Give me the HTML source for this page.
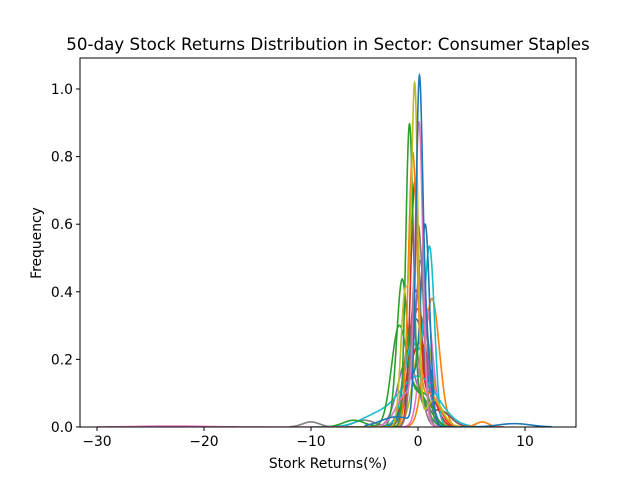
<!DOCTYPE html>
<html><head><meta charset="utf-8"><style>
body{margin:0;background:#fff}
svg text{font-family:"DejaVu Sans","Liberation Sans",sans-serif;fill:#000}
</style></head><body>
<svg id="chart" width="640" height="480" viewBox="0 0 640 480" xmlns="http://www.w3.org/2000/svg">
<defs><clipPath id="clip"><rect x="80" y="58" width="496" height="369"/></clipPath></defs>
<rect width="640" height="480" fill="#fff"/>
<text x="328" y="50" font-size="16.7" text-anchor="middle">50-day Stock Returns Distribution in Sector: Consumer Staples</text>
<g id="plot" clip-path="url(#clip)"></g>
<rect x="80" y="58" width="496" height="369" fill="none" stroke="#000" stroke-width="1"/>
<g id="axes"></g>
<text x="328" y="468" font-size="13.9" text-anchor="middle">Stork Returns(%)</text>
<text x="0" y="0" font-size="13.9" text-anchor="middle" transform="translate(41,243) rotate(-90)">Frequency</text>
</svg>
<script>
// each series: gaussian components [center, width, height] and x-range
const seriesComponents = [
 [[0.1,0.3,0.84],[0.6,0.5,0.3],[-2,1.5,0.03],[9,1.5,0.01]],
 [[-0.3,0.3,0.98],[-1.2,0.4,0.4],[1.5,0.8,0.08]],
 [[0.1,0.35,0.85],[-1,1,0.1],[-23,3,0.003]],
 [[-0.8,0.35,0.87],[0.5,0.8,0.1]],
 [[-0.5,0.4,0.78],[1,1,0.1],[6,0.6,0.015]],
 [[0,0.5,0.6],[-10,0.8,0.015]],
 [[0.7,0.4,0.55],[-0.5,0.8,0.15]],
 [[1.1,0.45,0.5],[-0.5,0.8,0.25]],
 [[-1.5,0.5,0.42],[0,0.8,0.1]],
 [[-1.8,0.7,0.28],[0,1,0.1],[-6,1,0.02]],
 [[0,1.8,0.15],[-4,1.5,0.03]],
 [[-0.3,0.4,0.7],[1,0.8,0.1]],
 [[0.3,0.5,0.45],[-1,1,0.1]],
 [[-0.2,0.6,0.4],[2,1,0.05]],
 [[0.8,0.6,0.35]],
 [[-0.6,0.7,0.3],[-5,1,0.02]],
 [[0.5,0.8,0.3]],
 [[-0.2,0.9,0.32]],
 [[1.3,0.7,0.38]],
 [[0.2,1.1,0.25]],
 [[-1,0.9,0.2],[2,1,0.05]],
 [[0,0.8,0.35]]
];
const seriesXMin = [-5,-6,-30,-6,-6,-12,-5,-4,-8,-9,-10,-5,-7,-6,-6,-8,-5,-6,-4,-7,-8,-5];
const seriesXMax = [12.5,6,8,6,8,5,6,7,5,5,8,5,6,6,7,6,6,5,6,6,6,5];
const seriesColorIdx = [0,8,6,2,1,7,0,9,2,2,9,3,4,5,6,7,8,0,1,3,4,5];
const xTicks = [-30,-20,-10,0,10];
const yTicks = [0.0,0.2,0.4,0.6,0.8,1.0];
const palette = ["#1f77b4","#ff7f0e","#2ca02c","#d62728","#9467bd","#8c564b","#e377c2","#7f7f7f","#bcbd22","#17becf"];

const X0=80,X1=576,Y0=58,Y1=427;
const xs = v => 418 + v*10.7;
const ys = v => 427 - v*338;
const NS="http://www.w3.org/2000/svg";
const plot=document.getElementById('plot'), axes=document.getElementById('axes');

for(let i=seriesComponents.length-1;i>=0;i--){
  const comps=seriesComponents[i];
  let d="";
  const a=seriesXMin[i], b=seriesXMax[i], n=600;
  for(let k=0;k<=n;k++){
    const x=a+(b-a)*k/n;
    let y=0; for(const [c,s,h] of comps) y+=h*Math.exp(-(x-c)*(x-c)/(2*s*s));
    d+=(k?"L":"M")+xs(x).toFixed(2)+","+ys(y).toFixed(2);
  }
  const p=document.createElementNS(NS,'path');
  p.setAttribute('d',d);p.setAttribute('fill','none');
  p.setAttribute('stroke',palette[seriesColorIdx[i]]);p.setAttribute('stroke-width','1.6');
  
  
  plot.appendChild(p);
}
xTicks.forEach(t=>{
  const x=xs(t);
  const l=document.createElementNS(NS,'line');
  l.setAttribute('x1',x);l.setAttribute('x2',x);l.setAttribute('y1',Y1);l.setAttribute('y2',Y1+4);l.setAttribute('stroke','#000');
  
  
  axes.appendChild(l);
  const tx=document.createElementNS(NS,'text');
  tx.setAttribute('x',x);tx.setAttribute('y',Y1+19);tx.setAttribute('font-size','13.9');tx.setAttribute('text-anchor','middle');
  tx.textContent=(t<0?"\u2212"+(-t):t);
  
  
  axes.appendChild(tx);
});
yTicks.forEach(t=>{
  const y=ys(t);
  const l=document.createElementNS(NS,'line');
  l.setAttribute('x1',X0-4);l.setAttribute('x2',X0);l.setAttribute('y1',y);l.setAttribute('y2',y);l.setAttribute('stroke','#000');
  
  
  axes.appendChild(l);
  const tx=document.createElementNS(NS,'text');
  tx.setAttribute('x',X0-7);tx.setAttribute('y',y+5);tx.setAttribute('font-size','13.9');tx.setAttribute('text-anchor','end');
  tx.textContent=t.toFixed(1);
  
  
  axes.appendChild(tx);
});
</script>
</body></html>
